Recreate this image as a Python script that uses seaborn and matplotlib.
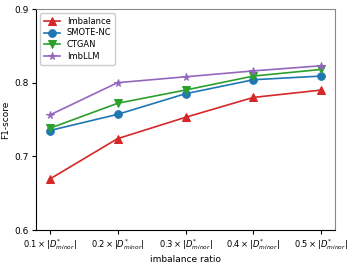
import numpy as np
import pandas as pd
import matplotlib
matplotlib.use("Agg")
import matplotlib.pyplot as plt
import seaborn as sns

ratios = [0.1, 0.2, 0.3, 0.4, 0.5]
imbalance = [0.669, 0.724, 0.753, 0.780, 0.790]
smote_nc = [0.735, 0.757, 0.785, 0.804, 0.809]
ctgan = [0.738, 0.772, 0.790, 0.809, 0.818]
imbllm = [0.756, 0.800, 0.808, 0.816, 0.823]
methods = ["Imbalance", "SMOTE-NC", "CTGAN", "ImbLLM"]
tick_labels = [r"$%.1f\times|D^{*}_{minor}|$" % r for r in ratios]

df = pd.DataFrame({
    "ratio": ratios * 4,
    "f1": imbalance + smote_nc + ctgan + imbllm,
    "method": sum([[m] * len(ratios) for m in methods], []),
})

colors = {"Imbalance": "#d62728", "SMOTE-NC": "#1f77b4", "CTGAN": "#2ca02c", "ImbLLM": "#9467bd"}
markers = {"Imbalance": "^", "SMOTE-NC": "o", "CTGAN": "v", "ImbLLM": "*"}

plt.rcParams['font.family'] = ['DejaVu Sans']
plt.rcParams['mathtext.fontset'] = 'dejavusans'

fig, ax = plt.subplots(figsize=(3.53, 2.65), dpi=100)
sns.lineplot(data=df, x="ratio", y="f1", hue="method", style="method",
             palette=colors, markers=markers, dashes=False, markersize=5.5,
             linewidth=1.2, ax=ax)
for line in ax.lines:
    line.set_markeredgecolor(line.get_color())

ax.set_ylim(0.6, 0.9)
ax.set_yticks([0.6, 0.7, 0.8, 0.9])
ax.set_xticks(ratios)
ax.set_xticklabels(tick_labels, fontsize=6)
ax.tick_params(axis='y', labelsize=6.5, length=3, width=0.8, pad=2)
ax.tick_params(axis='x', length=3, width=0.8, pad=2)
ax.set_xlabel("imbalance ratio", fontsize=6.5, labelpad=2)
ax.set_ylabel("F1-score", fontsize=6.5, labelpad=3)
for s in ["top", "right"]:
    ax.spines[s].set_color("#888888")
for s in ax.spines.values():
    s.set_linewidth(0.8)

leg = ax.legend(loc="upper left", fontsize=6, frameon=True, framealpha=1,
                handlelength=2, borderpad=0.4, labelspacing=0.35)
leg.get_frame().set_edgecolor("#cccccc")

fig.subplots_adjust(left=0.102, right=0.949, top=0.966, bottom=0.132)
fig.savefig("out.png", dpi=100)
